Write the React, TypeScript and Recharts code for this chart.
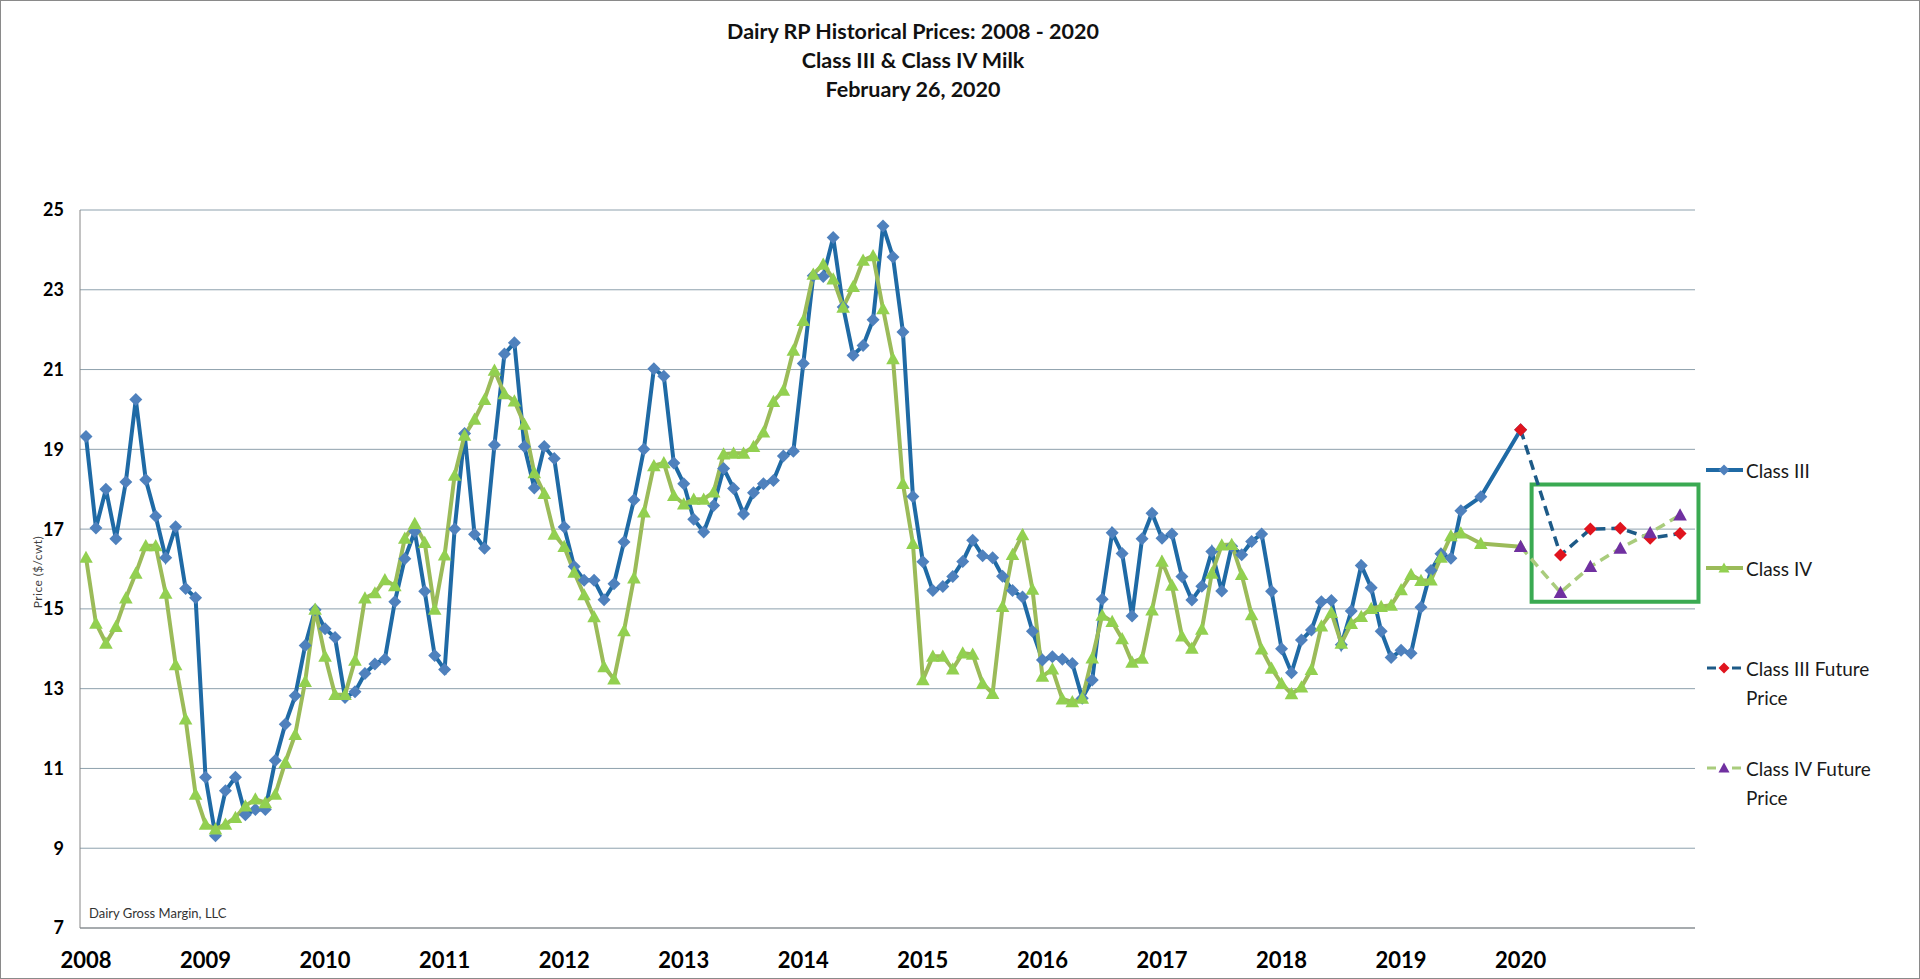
import React from "react";
import { LineChart, Line, XAxis, YAxis, CartesianGrid, ReferenceArea } from "recharts";

// ---- data (USD per cwt, monthly from Jan 2008) ----
const START = "2008-01";
const classIIIHistory = [
  19.32, 17.03, 18.0, 16.76, 18.18, 20.25, 18.24, 17.32, 16.28, 17.06, 15.51, 15.28,
  10.78, 9.31, 10.44, 10.78, 9.84, 9.97, 9.97, 11.2, 12.11, 12.82, 14.08, 14.98,
  14.5, 14.28, 12.78, 12.92, 13.38, 13.62, 13.74, 15.18, 16.26, 16.94, 15.44, 13.83,
  13.48, 17.0, 19.4, 16.87, 16.52, 19.11, 21.39, 21.67, 19.07, 18.03, 19.07, 18.77,
  17.05, 16.06, 15.72, 15.72, 15.23, 15.63, 16.68, 17.73, 19.0, 21.02, 20.83, 18.66,
  18.14, 17.25, 16.93, 17.59, 18.52, 18.02, 17.38, 17.91, 18.14, 18.22, 18.83, 18.95,
  21.15, 23.35, 23.33, 24.31, 22.57, 21.36, 21.6, 22.25, 24.6, 23.82, 21.94, 17.82,
  16.18, 15.46, 15.56, 15.81, 16.19, 16.72, 16.33, 16.28, 15.82, 15.46, 15.3, 14.44,
  13.72, 13.8, 13.74, 13.63, 12.76, 13.22, 15.24, 16.91, 16.39, 14.82, 16.76, 17.4,
  16.77, 16.88, 15.81, 15.22, 15.57, 16.44, 15.45, 16.57, 16.36, 16.69, 16.88, 15.44,
  14.0, 13.4, 14.22, 14.47, 15.18, 15.21, 14.1, 14.95, 16.09, 15.53, 14.44, 13.78,
  13.96, 13.89, 15.04, 15.96, 16.38, 16.27, 17.46,
];
const classIVHistory = [
  16.29, 14.64, 14.14, 14.56, 15.27, 15.89, 16.58, 16.58, 15.39, 13.6, 12.24, 10.35,
  9.6, 9.48, 9.6, 9.77, 10.06, 10.23, 10.14, 10.35, 11.15, 11.85, 13.18, 14.99,
  13.81, 12.85, 12.85, 13.71, 15.27, 15.4, 15.73, 15.58, 16.77, 17.14, 16.66, 14.99,
  16.35, 18.35, 19.35, 19.75, 20.25, 20.98, 20.39, 20.21, 19.63, 18.41, 17.89, 16.87,
  16.56, 15.92, 15.35, 14.8, 13.55, 13.24, 14.45, 15.77, 17.43, 18.59, 18.66, 17.84,
  17.63, 17.75, 17.75, 17.93, 18.88, 18.9, 18.9, 19.07, 19.43, 20.2, 20.48, 21.48,
  22.23, 23.39, 23.64, 23.27, 22.56, 23.08, 23.74, 23.85, 22.52, 21.27, 18.14, 16.64,
  13.22, 13.81, 13.81, 13.49, 13.89, 13.86, 13.13, 12.88, 15.06, 16.36, 16.86, 15.49,
  13.31, 13.49, 12.74, 12.67, 12.76, 13.77, 14.84, 14.68, 14.25, 13.66, 13.76, 14.97,
  16.19, 15.59, 14.32, 14.01, 14.49, 15.89, 16.6, 16.61, 15.86, 14.85, 13.99, 13.51,
  13.13, 12.87, 13.04, 13.48, 14.57, 14.91, 14.14, 14.63, 14.81, 15.01, 15.06, 15.09,
  15.48, 15.86, 15.71, 15.72, 16.29, 16.83, 16.9,
];
const lateMonths = ["2019-09", "2020-01"];
const classIIILate = [17.81, 19.49];
const classIVLate = [16.64, 16.56];

const futureMonths = ["2020-01", "2020-05", "2020-08", "2020-11", "2021-02", "2021-05"];
const classIIIFuture = [19.49, 16.35, 17.0, 17.02, 16.77, 16.89];
const classIVFuture = [16.56, 15.41, 16.06, 16.52, 16.91, 17.35];

const yearLabels = [2008, 2009, 2010, 2011, 2012, 2013, 2014, 2015, 2016, 2017, 2018, 2019, 2020];
const priceTicks = [7, 9, 11, 13, 15, 17, 19, 21, 23, 25];

// highlight box around the futures (month index / price units)
const highlight = { from: 145.1, to: 161.85, low: 15.18, high: 18.12 };

const titleLines = ["Dairy RP Historical Prices: 2008 - 2020", "Class III & Class IV Milk", "February 26, 2020"];

// ---- helpers ----
const monthIndex = (s: string) => {
  const [y, m] = s.split("-").map(Number);
  const [y0, m0] = START.split("-").map(Number);
  return (y - y0) * 12 + (m - m0);
};
const history = (vals: number[], lateM: string[], lateV: number[]) => [
  ...vals.map((v, i) => ({ m: i, v })),
  ...lateM.map((s, i) => ({ m: monthIndex(s), v: lateV[i] })),
];
const future = (vals: number[]) => futureMonths.map((s, i) => ({ m: monthIndex(s), v: vals[i] }));

const c3Data = history(classIIIHistory, lateMonths, classIIILate);
const c4Data = history(classIVHistory, lateMonths, classIVLate);
const c3Future = future(classIIIFuture);
const c4Future = future(classIVFuture);

const FONT = "Lato, 'Open Sans', sans-serif";

const diamondDot = (fill: string, r: number, tag: string) => (p: any) => {
  const { cx, cy, index } = p;
  if (cx == null || cy == null) return <g key={`${tag}-${index}`} />;
  return (
    <polygon
      key={`${tag}-${index}`}
      points={`${cx},${cy - r} ${cx + r},${cy} ${cx},${cy + r} ${cx - r},${cy}`}
      fill={fill}
    />
  );
};
const triangleDot = (fill: string, r: number, tag: string) => (p: any) => {
  const { cx, cy, index } = p;
  if (cx == null || cy == null) return <g key={`${tag}-${index}`} />;
  return (
    <polygon
      key={`${tag}-${index}`}
      points={`${cx},${cy - r} ${cx + r},${cy + r * 0.8} ${cx - r},${cy + r * 0.8}`}
      fill={fill}
    />
  );
};

const C3_LINE = "#1f6aa5";
const C3_MARK = "#4f81bd";
const C4_LINE = "#9bbb59";
const C4_MARK = "#92d050";
const F3_LINE = "#1d5a87";
const F3_MARK = "#e0141e";
const F4_LINE = "#a9cc7c";
const F4_MARK = "#7030a0";

const legendItems = [
  { name: "Class III", y: 470, line: C3_LINE, mark: C3_MARK, shape: "diamond", dashed: false },
  { name: "Class IV", y: 568, line: C4_LINE, mark: C4_MARK, shape: "triangle", dashed: false },
  { name: "Class III Future Price", y: 668, line: F3_LINE, mark: F3_MARK, shape: "diamond", dashed: true },
  { name: "Class IV Future Price", y: 768, line: F4_LINE, mark: F4_MARK, shape: "triangle", dashed: true },
];

function LegendSymbol({ it }: { it: (typeof legendItems)[number] }) {
  const cx = 19;
  const cy = 8;
  const r = 5.5;
  return (
    <svg width={40} height={16} style={{ position: "absolute", left: 0, top: -8 }}>
      {it.dashed ? (
        <>
          <line x1={2} y1={cy} x2={11} y2={cy} stroke={it.line} strokeWidth={3} />
          <line x1={27} y1={cy} x2={36} y2={cy} stroke={it.line} strokeWidth={3} />
        </>
      ) : (
        <line x1={1} y1={cy} x2={38} y2={cy} stroke={it.line} strokeWidth={4} />
      )}
      {it.shape === "diamond" ? (
        <polygon points={`${cx},${cy - r} ${cx + r},${cy} ${cx},${cy + r} ${cx - r},${cy}`} fill={it.mark} />
      ) : (
        <polygon points={`${cx},${cy - r} ${cx + r},${cy + r * 0.8} ${cx - r},${cy + r * 0.8}`} fill={it.mark} />
      )}
    </svg>
  );
}

export default function App() {
  return (
    <div
      style={{
        position: "absolute",
        left: 0,
        top: 0,
        width: 1920,
        height: 979,
        boxSizing: "border-box",
        border: "1px solid #8a8a8a",
        background: "#fff",
        overflow: "hidden",
        fontFamily: FONT,
      }}
    >
      <div style={{ position: "absolute", left: -1, top: -1 }}>
        <LineChart width={1920} height={979} margin={{ top: 210, right: 225, bottom: 0, left: 0 }}>
          <CartesianGrid vertical={false} stroke="#8ea1ad" strokeWidth={1} />
          <XAxis
            type="number"
            dataKey="m"
            domain={[-0.6, 161.5]}
            allowDataOverflow
            ticks={yearLabels.map((y) => (y - 2008) * 12)}
            tickFormatter={(v: number) => String(2008 + Math.round(v / 12))}
            interval={0}
            tickLine={false}
            tickSize={0}
            tickMargin={24}
            height={51}
            axisLine={{ stroke: "#868686", strokeWidth: 1 }}
            tick={{ fill: "#000", fontSize: 22, fontWeight: 700, fontFamily: FONT }}
          />
          <YAxis
            type="number"
            domain={[7, 25]}
            ticks={priceTicks}
            interval={0}
            width={80}
            tickLine={false}
            tickSize={0}
            tickMargin={16}
            axisLine={{ stroke: "#868686", strokeWidth: 1 }}
            tick={{ fill: "#000", fontSize: 18, fontWeight: 700, fontFamily: FONT }}
          />
          <ReferenceArea
            x1={highlight.from}
            x2={highlight.to}
            y1={highlight.low}
            y2={highlight.high}
            stroke="#3aaa52"
            strokeWidth={4}
            fill="none"
            fillOpacity={0}
            ifOverflow="visible"
          />
          <Line
            data={c3Data}
            dataKey="v"
            name="Class III"
            type="linear"
            stroke={C3_LINE}
            strokeWidth={4}
            dot={diamondDot(C3_MARK, 6.5, "c3")}
            activeDot={false}
            isAnimationActive={false}
          />
          <Line
            data={c4Data}
            dataKey="v"
            name="Class IV"
            type="linear"
            stroke={C4_LINE}
            strokeWidth={4}
            dot={triangleDot(C4_MARK, 6.8, "c4")}
            activeDot={false}
            isAnimationActive={false}
          />
          <Line
            data={c3Future}
            dataKey="v"
            name="Class III Future Price"
            type="linear"
            stroke={F3_LINE}
            strokeWidth={3.5}
            strokeDasharray="10 6"
            dot={diamondDot(F3_MARK, 6.5, "f3")}
            activeDot={false}
            isAnimationActive={false}
          />
          <Line
            data={c4Future}
            dataKey="v"
            name="Class IV Future Price"
            type="linear"
            stroke={F4_LINE}
            strokeWidth={3.5}
            strokeDasharray="10 6"
            dot={triangleDot(F4_MARK, 6.8, "f4")}
            activeDot={false}
            isAnimationActive={false}
          />
        </LineChart>
      </div>

      {/* title */}
      <div
        style={{
          position: "absolute",
          left: 562,
          top: 16,
          width: 700,
          textAlign: "center",
          fontWeight: 700,
          fontSize: 21.5,
          lineHeight: "29px",
          color: "#111",
        }}
      >
        {titleLines.map((t) => (
          <div key={t}>{t}</div>
        ))}
      </div>

      {/* y axis title */}
      <div
        style={{
          position: "absolute",
          left: 36,
          top: 571,
          transform: "translate(-50%, -50%) rotate(-90deg)",
          fontSize: 12,
          color: "#404040",
          whiteSpace: "nowrap",
          letterSpacing: 0.4,
        }}
      >
        Price ($/cwt)
      </div>

      {/* source note */}
      <div style={{ position: "absolute", left: 88, top: 904, fontSize: 13, color: "#333", whiteSpace: "nowrap" }}>
        Dairy Gross Margin, LLC
      </div>

      {/* legend */}
      {legendItems.map((it) => (
        <div key={it.name} style={{ position: "absolute", left: 1704, top: it.y - 1 }}>
          <LegendSymbol it={it} />
          <div
            style={{
              position: "absolute",
              left: 41,
              top: -14,
              width: 155,
              fontSize: 19,
              lineHeight: "29px",
              color: "#1a1a1a",
            }}
          >
            {it.name}
          </div>
        </div>
      ))}
    </div>
  );
}
